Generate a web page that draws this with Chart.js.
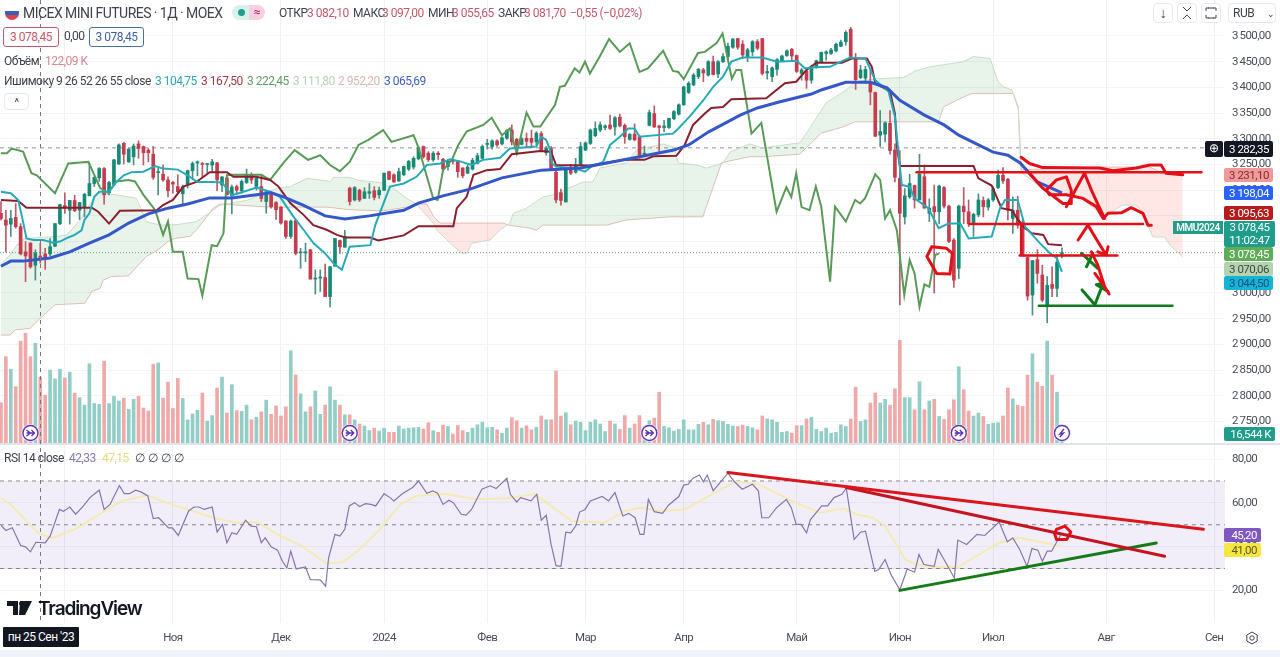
<!DOCTYPE html>
<html lang="ru">
<head>
<meta charset="utf-8">
<title>MICEX MINI FUTURES</title>
<script src="https://cdn.jsdelivr.net/npm/chart.js@4"></script>
<style>
    html, body { margin: 0; padding: 0; background: #f0f3fa; }
    #wrap { position: relative; width: 1280px; height: 657px; overflow: hidden; font-family: Roboto, sans-serif; font-size: 12px; letter-spacing: -0.5px; color: #3f434e; }
    canvas { display: block; background: #fff; }
    .t { position: absolute; white-space: nowrap; line-height: 14px; }
    .red { color: #c25a6c; }
    .tag { position: absolute; left: 1224px; width: 45px; padding-right: 4px; text-align: right; line-height: 14px; height: 14px; border-radius: 2px; font-size: 11.5px; }
    .btn { position: absolute; box-sizing: border-box; border: 1px solid #e6e8ee; border-radius: 4px; background: #fff; text-align: center; }
</style>
</head>
<body>
<div id="wrap">
    <canvas id="chart" width="1280" height="650"></canvas>

    <!-- legend rows -->
    <div style="position:absolute;left:5px;top:7px;width:14px;height:13px;border-radius:2px 2px 7px 7px;background:linear-gradient(#fff 0 30%,#3b5fb5 30% 60%,#d8444c 60%);"></div>
    <div class="t" style="left:23px;top:6px;font-size:14px;letter-spacing:-0.55px;">MICEX MINI FUTURES · 1Д · MOEX</div>
    <div style="position:absolute;left:232px;top:5px;width:17px;height:15px;background:#d9f1ee;border-radius:8px 0 0 8px;"></div>
    <div style="position:absolute;left:238px;top:9px;width:7px;height:7px;background:#1f9d8a;border-radius:50%;"></div>
    <div class="t" style="left:249px;top:5px;width:16px;height:15px;background:#f8cfdc;border-radius:0 8px 8px 0;text-align:center;color:#c2185b;">≈</div>
    <div class="t" style="left:279px;top:6px;">ОТКР</div><div class="t red" style="left:307px;top:6px;">3 082,10</div>
    <div class="t" style="left:353px;top:6px;">МАКС</div><div class="t red" style="left:382px;top:6px;">3 097,00</div>
    <div class="t" style="left:428px;top:6px;">МИН</div><div class="t red" style="left:452px;top:6px;">3 055,65</div>
    <div class="t" style="left:498px;top:6px;">ЗАКР</div><div class="t red" style="left:524px;top:6px;">3 081,70</div>
    <div class="t red" style="left:570px;top:6px;">−0,55 (−0,02%)</div>

    <div class="t red" style="left:3px;top:27px;width:54px;height:18px;line-height:18px;border:1px solid #c25a6c;border-radius:3px;text-align:center;background:#fff;">3 078,45</div>
    <div class="t" style="left:64px;top:29px;">0,00</div>
    <div class="t" style="left:89px;top:27px;width:53px;height:18px;line-height:18px;border:1px solid #4a6fa5;border-radius:3px;text-align:center;color:#3f5f9e;background:#fff;">3 078,45</div>

    <div class="t" style="left:4px;top:54px;">Объём</div>
    <div class="t" style="left:45px;top:54px;color:#d8848f;">122,09 K</div>

    <div class="t" style="left:4px;top:74px;">Ишимоку 9 26 52 26 55 close</div>
    <div class="t" style="left:155px;top:74px;color:#2aa7b5;">3 104,75</div>
    <div class="t" style="left:201px;top:74px;color:#9c3a44;">3 167,50</div>
    <div class="t" style="left:247px;top:74px;color:#5f9c62;">3 222,45</div>
    <div class="t" style="left:293px;top:74px;color:#b9d2b6;">3 111,80</div>
    <div class="t" style="left:338px;top:74px;color:#dcb4b0;">2 952,20</div>
    <div class="t" style="left:384px;top:74px;color:#3f62b8;">3 065,69</div>
    <div class="btn" style="left:4px;top:93px;width:25px;height:17px;line-height:17px;font-size:11px;">^</div>

    <div class="t" style="left:4px;top:451px;">RSI 14 close</div>
    <div class="t" style="left:69px;top:451px;color:#8a7ab5;">42,33</div>
    <div class="t" style="left:102px;top:451px;color:#e6d97a;">47,15</div>
    <div class="t" style="left:135px;top:451px;word-spacing:1px;">∅ ∅ ∅ ∅</div>

    <!-- top right buttons -->
    <div class="btn" style="left:1153px;top:3px;width:20px;height:20px;line-height:18px;font-size:14px;">↓</div>
    <div class="btn" style="left:1177px;top:3px;width:20px;height:20px;"><svg width="12" height="14" viewBox="0 0 12 14" style="margin-top:2px;"><path d="M2 1l4 4 4-4M2 13l4-4 4 4" fill="none" stroke="#3f434e"/></svg></div>
    <div class="btn" style="left:1201px;top:3px;width:20px;height:20px;"><svg width="12" height="12" viewBox="0 0 12 12" style="margin-top:3px;"><path d="M1 4V1h3M8 1h3v3M11 8v3H8M4 11H1V8" fill="none" stroke="#3f434e"/><path d="M3 1h6M3 11h6" stroke="#3f434e"/></svg></div>
    <div class="btn" style="left:1228px;top:3px;width:48px;height:20px;line-height:18px;text-align:left;padding-left:4px;">RUB <span style="margin-left:10px;font-size:9px;">⌄</span></div>

    <!-- price tags -->
    <div class="t" style="left:1205px;top:141px;width:18px;height:16px;line-height:15px;background:#131722;color:#fff;text-align:center;border-radius:2px;">⊕</div>
    <div class="tag" style="top:141px;height:16px;line-height:16px;background:#131722;color:#fff;">3 282,35</div>
    <div class="tag" style="top:168px;background:#ef9a9a;color:#8a2a2a;">3 231,10</div>
    <div class="tag" style="top:186px;background:#2962ff;color:#fff;">3 198,04</div>
    <div class="tag" style="top:206px;background:#b71c1c;color:#fff;">3 095,63</div>
    <div class="t" style="left:1173px;top:221px;width:50px;height:13px;line-height:13px;background:#1f9d8a;color:#fff;font-size:10px;text-align:center;font-weight:600;">MMU2024</div>
    <div class="tag" style="top:221px;width:51px;height:26px;line-height:13px;background:#1f9d8a;color:#fff;text-align:center;padding:0;">3 078,45<br>11:02:47</div>
    <div class="tag" style="top:247px;background:#5fae57;color:#fff;">3 078,45</div>
    <div class="tag" style="top:262px;background:#b5d3b0;color:#3d4a3d;">3 070,06</div>
    <div class="tag" style="top:276px;background:#14b4d6;color:#16507a;">3 044,50</div>
    <div class="tag" style="top:427px;width:47px;background:#1f9d8a;color:#fff;">16,544 K</div>
    <div class="tag" style="top:528px;width:33px;background:#7e57c2;color:#fff;">45,20</div>
    <div class="tag" style="top:543px;width:33px;background:#f5e642;color:#5c5a1c;">41,00</div>

    <!-- logo and time label -->
    <svg style="position:absolute;left:7px;top:601px;" width="26" height="15" viewBox="0 0 26 15"><path d="M0 0h11v14H6V5H0zM13 0h12l-7 14h-6zM12 2.5a2.5 2.5 0 1 1 0 .01z" fill="#131722"/></svg>
    <div class="t" style="left:38px;top:599px;font-size:19px;line-height:20px;font-family:Inter,sans-serif;font-weight:600;letter-spacing:-1.1px;color:#131722;">TradingView</div>
    <div class="t" style="left:3px;top:627px;width:76px;height:20px;line-height:20px;background:#131722;color:#fff;text-align:center;border-radius:1px;">пн 25 Сен '23</div>
    <svg style="position:absolute;left:1245px;top:631px;" width="14" height="14" viewBox="0 0 14 14"><path d="M7 1l5.2 3v6L7 13l-5.2-3V4z" fill="none" stroke="#3f434e"/><circle cx="7" cy="7" r="2.2" fill="none" stroke="#3f434e"/></svg>
</div>

<script>
// candles, one row per trading day from the left edge
const opens = [3155,3142,3134,3147,3129,3080,3097,3054,3072,3076,3076,3091,3135,3170,3161,3180,3161,3167,3189,3213,
    3224,3242,3195,3211,3251,3291,3255,3265,3290,3285,3278,3270,3234,3231,3220,3215,3207,3193,3212,3238,
    3253,3252,3250,3249,3253,3210,3224,3189,3207,3199,3215,3230,3207,3207,3178,3191,3176,3167,3140,3110,
    3141,3078,3078,3084,3027,3029,3030,2993,3052,3102,3089,3204,3181,3200,3184,3194,3199,3191,3200,3236,
    3230,3218,3230,3241,3245,3261,3285,3272,3259,3272,3260,3246,3259,3256,3243,3233,3241,3252,3262,3289,
    3285,3296,3290,3301,3317,3299,3289,3301,3301,3294,3310,3273,3281,3235,3195,3177,3245,3235,3250,3278,
    3291,3306,3317,3322,3327,3323,3342,3326,3299,3309,3304,3270,3326,3349,3325,3322,3322,3339,3348,3366,
    3390,3405,3421,3434,3424,3450,3426,3450,3460,3478,3495,3484,3458,3469,3489,3495,3428,3421,3435,3452,
    3462,3474,3462,3427,3432,3414,3439,3450,3466,3466,3471,3480,3489,3513,3456,3419,3418,3411,3390,3307,
    3309,3330,3278,3223,3148,3187,3209,3181,3226,3155,3168,3158,3205,3169,3103,3048,3169,3158,3134,3152,
    3180,3167,3181,3205,3229,3221,3145,3161,3137,3069,2996,3065,3035,2973,3017,3009,3076];
const highs = [3178,3161,3161,3174,3135,3100,3098,3084,3097,3087,3106,3135,3173,3195,3180,3190,3176,3194,3252,3226,
    3244,3244,3217,3260,3290,3293,3281,3290,3296,3286,3281,3285,3244,3249,3226,3217,3230,3210,3239,3255,
    3257,3254,3252,3260,3254,3226,3226,3210,3210,3220,3241,3234,3226,3230,3200,3197,3178,3168,3141,3142,
    3142,3087,3097,3085,3045,3045,3056,3052,3106,3103,3122,3206,3207,3202,3205,3213,3207,3206,3234,3237,
    3232,3243,3247,3258,3265,3285,3286,3275,3275,3275,3262,3259,3261,3257,3244,3249,3262,3272,3288,3299,
    3298,3298,3304,3318,3327,3301,3303,3311,3317,3314,3314,3285,3285,3243,3202,3239,3250,3262,3293,3294,
    3319,3333,3333,3327,3346,3343,3348,3329,3310,3329,3307,3286,3356,3364,3326,3336,3340,3355,3368,3402,
    3411,3427,3437,3437,3452,3461,3452,3466,3486,3495,3495,3491,3476,3491,3493,3495,3443,3440,3456,3463,
    3473,3476,3463,3437,3437,3443,3453,3469,3471,3476,3486,3492,3510,3517,3466,3443,3441,3435,3391,3355,
    3333,3355,3290,3277,3203,3231,3210,3270,3249,3183,3210,3210,3207,3171,3106,3171,3205,3181,3155,3193,
    3187,3184,3207,3239,3244,3223,3187,3188,3142,3071,3063,3084,3054,3032,3051,3074,3088];
const lows = [3142,3080,3110,3126,3074,3022,3048,3025,3058,3046,3072,3090,3133,3155,3134,3158,3143,3148,3189,3207,
    3217,3173,3191,3210,3250,3251,3254,3249,3262,3249,3255,3221,3191,3217,3187,3194,3194,3173,3204,3220,
    3228,3225,3233,3234,3199,3197,3191,3154,3191,3194,3213,3213,3200,3178,3155,3165,3143,3134,3106,3106,
    3074,3048,3061,3027,2998,3003,2993,2973,3052,3077,3089,3171,3179,3178,3184,3184,3181,3184,3199,3220,
    3215,3217,3228,3238,3241,3259,3262,3256,3256,3260,3236,3239,3251,3225,3224,3232,3239,3251,3260,3280,
    3280,3285,3288,3299,3288,3270,3288,3282,3283,3288,3275,3268,3238,3175,3171,3177,3230,3233,3250,3277,
    3289,3304,3314,3317,3318,3307,3323,3291,3297,3296,3262,3265,3325,3322,3275,3314,3320,3337,3346,3365,
    3388,3403,3417,3411,3422,3424,3419,3448,3456,3476,3474,3456,3450,3461,3473,3424,3416,3411,3424,3450,
    3460,3450,3429,3414,3398,3408,3437,3448,3453,3464,3469,3479,3482,3456,3396,3417,3408,3366,3304,3285,
    3294,3270,3216,2977,3134,3184,3165,3181,3165,3139,3000,3135,3165,3098,3011,3028,3135,3129,3110,3148,
    3148,3161,3178,3203,3213,3142,3116,3126,3072,2986,2957,3019,2983,2942,2993,2993,3068];
const closes = [3145,3132,3145,3129,3076,3072,3051,3078,3069,3067,3090,3135,3172,3165,3180,3160,3176,3192,3213,3225,
    3242,3191,3215,3259,3288,3270,3280,3286,3281,3273,3273,3225,3236,3220,3199,3212,3197,3207,3238,3252,
    3255,3250,3251,3255,3220,3226,3191,3206,3200,3217,3231,3220,3223,3184,3197,3168,3162,3136,3110,3140,
    3077,3080,3080,3027,3029,3030,2993,3051,3106,3090,3110,3178,3205,3181,3197,3197,3186,3200,3233,3221,
    3216,3236,3246,3256,3262,3282,3265,3259,3272,3269,3241,3257,3256,3236,3228,3245,3258,3267,3285,3291,
    3296,3288,3302,3316,3294,3288,3300,3295,3293,3311,3277,3281,3242,3181,3180,3239,3233,3248,3285,3292,
    3317,3320,3327,3325,3320,3341,3325,3304,3309,3298,3268,3272,3351,3323,3322,3325,3340,3353,3366,3401,
    3408,3424,3435,3428,3450,3425,3450,3460,3480,3494,3478,3463,3473,3489,3476,3427,3431,3438,3454,3461,
    3471,3461,3431,3434,3414,3440,3452,3468,3469,3473,3484,3488,3507,3460,3415,3434,3435,3391,3305,3314,
    3331,3277,3225,3155,3189,3213,3181,3231,3165,3165,3158,3208,3169,3100,3025,3169,3158,3135,3153,3181,
    3168,3181,3203,3229,3218,3161,3161,3132,3073,2994,3063,3038,2986,3015,3009,3060,3078.45];
const volumes = [97,207,177,135,244,263,207,239,158,115,175,154,177,156,170,120,109,91,190,95,
    93,196,95,112,101,108,81,105,112,84,77,189,192,108,146,83,155,107,56,70,
    79,120,53,66,132,158,72,140,78,76,91,56,62,75,103,69,89,65,87,221,
    163,118,75,87,125,69,91,135,103,91,68,68,56,46,41,30,36,29,36,26,
    26,41,34,36,37,38,34,49,30,26,43,40,22,42,30,26,36,44,50,37,
    38,32,24,36,61,54,36,42,32,38,65,56,56,173,65,73,44,53,50,30,
    50,56,46,28,53,46,33,66,36,46,66,41,54,60,122,40,37,29,33,56,
    32,32,45,50,44,57,54,52,45,41,40,43,40,37,32,65,58,56,50,26,
    28,24,42,42,58,62,33,28,36,24,26,44,40,58,134,52,56,96,120,96,
    105,91,130,246,109,109,80,147,80,101,105,64,57,80,104,183,128,77,65,72,
    64,45,48,49,65,132,106,91,88,163,214,146,136,244,163,122,16.544];

// Ichimoku lines: bar numbers and prices of their turning points
const tenkanIdx = [0,2,3.5,4.2,5.2,6.6,8.6,10.6,12,13.7,15,16.4,17,18,19,20,22,23.5,25,26.6,29,31.4,33,36,38,40,43,45,47,49.4,52,54.8,56.8,59.5,61.6,63.6,66,67.7,69.4,71,75.2,76.2,77.9,79.2,82,84.6,86.7,89.4,91.4,93.5,95.8,98.2,101.6,103.6,109,110,111,111.7,112.2,113,117,118.9,120.2,122.6,124,126,127.7,129,130,136.8,137.9,140.2,143,145,147,148.7,151,155,158,162,163.7,165.7,168.8,171,172.9,176,178,180.7,182,183,183.4,185,186,188.8,190.9,192.9,195.3,197,201.7,203.4,204.4,207,208.5,211.5,213.6,215,216];
const tenkanVal = [3197,3194,3181,3152,3106,3103,3103,3098,3100,3108,3113,3122,3142,3155,3187,3197,3197,3216,3229,3235,3236,3247,3242,3240,3229,3216,3216,3215,3190,3197,3205,3197,3187,3149,3123,3097,3077,3058,3045,3090,3093,3132,3175,3207,3213,3226,3249,3252,3260,3256,3249,3259,3263,3281,3285,3304,3298,3281,3252,3246,3242,3236,3246,3255,3288,3304,3320,3320,3304,3310,3320,3343,3375,3401,3421,3450,3458,3458,3450,3452,3437,3439,3440,3450,3458,3456,3414,3392,3343,3246,3210,3207,3184,3165,3126,3135,3135,3106,3110,3165,3181,3181,3129,3097,3077,3067,3041];

const kijunIdx = [0,3.5,5.2,18.5,19.8,22,24.2,31.7,33,35,37.1,39.8,42.5,46,47.3,52,54.8,56.5,58.9,61.6,63.6,66.3,68.4,70.1,75.2,76.8,82,85,92.1,92.8,94.8,96.2,98.9,101.6,104,109.8,112,113,119.9,126.7,131,132.8,137.5,139.2,140.9,143.3,144.6,147,148.7,155.8,159.6,161.9,164,166,171.2,173.2,176.3,177.3,178,181,182,182.4,183,198,199,201.7,202.7,203.7,205.8,207.1,208.5,209.9,212.2,213.2,216];
const kijunVal = [3181,3179,3166,3166,3158,3135,3160,3161,3171,3181,3207,3216,3235,3235,3226,3226,3220,3207,3175,3152,3132,3123,3113,3108,3108,3102,3112,3130,3130,3165,3187,3230,3239,3241,3270,3276,3275,3249,3248,3259,3259,3266,3267,3288,3327,3349,3360,3362,3377,3379,3408,3411,3434,3448,3448,3456,3456,3440,3408,3392,3349,3285,3247,3247,3223,3209,3187,3165,3161,3142,3126,3116,3113,3095,3093];

const chikouIdx = [0,1.2,2.2,4.5,6.2,7.3,11,13.7,16.1,17.8,20.2,21.8,23.5,25.9,27.3,29,31.4,33,34,35,37,38,40.2,41,42.9,44,45.3,46,47,53,54.8,57.5,59.8,62.5,65,67,69,71,72.8,74.8,77.8,79.5,84,85,88,88.9,90,91.8,93.1,94.8,98.2,99.9,102,103.6,105,107,108.4,109.8,112.8,113.8,114.8,116.8,117.8,118.9,119.9,121.9,123.8,126,128,130,131.7,134.8,136.8,137.9,139,141.9,143.3,145.7,146.9,148.8,149.7,150.7,152.8,154.8,157.9,159.9,160.9,161.9,163,164.6,165.9,167,168.8,169.8,172,173.9,174.9,175.9,178,179,180,181,182.4,183.9,185,186,187,188,189,190.2,191];
const chikouVal = [3272,3272,3281,3275,3233,3229,3194,3252,3254,3255,3204,3195,3217,3220,3217,3191,3161,3113,3139,3080,3080,3028,3027,2995,3093,3091,3116,3229,3230,3230,3220,3253,3278,3259,3268,3249,3237,3255,3288,3298,3317,3294,3307,3283,3184,3181,3239,3259,3288,3314,3327,3341,3307,3320,3272,3351,3324,3324,3366,3401,3403,3437,3429,3450,3427,3460,3494,3469,3486,3430,3437,3471,3432,3430,3416,3467,3469,3486,3505,3417,3434,3434,3310,3331,3158,3206,3187,3233,3167,3161,3207,3168,3022,3168,3139,3181,3174,3184,3231,3220,3145,3161,3122,2996,3064,3038,2973,3017,3012,3074,3077];

const spanAIdx = [0,1.8,3.2,4.9,11.3,13.4,16.1,19.5,23.5,27.6,29.6,32.4,35.8,39.8,43.2,44.6,50,54,56.2,58.9,62.3,67,67.7,71,72.8,77.2,79.9,82.6,84.6,88,88.7,90.8,93.8,94.8,95.8,99.6,101.6,103.6,104.3,107,110.4,112.4,118.5,120.5,121.9,127.3,129.4,134.8,137.2,137.8,141.6,143.6,147,148.4,152.4,155.1,157.9,162.6,164,168,172.1,173.9,178.3,183.7,186.1,189.2,195.9,198,201.4,203,204.1,205.8,207.1,207.6,207.7,213.5,219,223.7,225.7,228.4,231,232.5,233.2,234.5,236.9,238,240.6];
const spanAVal = [3055,3074,3093,3106,3110,3113,3142,3194,3191,3184,3139,3132,3133,3139,3161,3171,3180,3195,3204,3207,3223,3217,3225,3225,3219,3215,3204,3184,3173,3136,3123,3103,3077,3077,3097,3103,3123,3136,3155,3165,3187,3191,3216,3216,3243,3253,3278,3290,3282,3253,3249,3243,3253,3274,3290,3282,3286,3292,3311,3370,3395,3411,3417,3419,3432,3440,3450,3460,3456,3411,3401,3395,3359,3246,3234,3194,3191,3156,3156,3171,3171,3158,3138,3109,3109,3093,3070];
const spanBIdx = [0,1.8,2.9,5.9,7.6,11,17.1,18.5,20.2,20.8,22.5,25.9,29.6,32,34,35.4,38.5,39.8,41.2,43.2,44.6,54.8,66.3,71,76.5,77.9,82.6,84.6,86.7,88,89.4,102.3,103.3,107.7,109,110.4,123.3,127.3,136.1,142.9,144.3,146.7,148.4,152.4,155.1,162.6,167,171.4,173.9,190.9,191.9,194.6,197.6,206.1,207.1,207.6,207.8,224,233.9,236.9,240.6];
const spanBVal = [2918,2918,2928,2931,2947,2977,2980,3003,3009,3025,3032,3033,3071,3084,3100,3106,3110,3123,3139,3165,3173,3167,3167,3162,3160,3160,3167,3173,3173,3150,3136,3136,3132,3126,3122,3132,3132,3142,3148,3148,3187,3253,3257,3265,3265,3270,3311,3323,3333,3333,3362,3375,3388,3388,3362,3265,3240,3245,3245,3231,3231];

const maIdx = [0,2,4.5,10,14,18,22,26,30,34,38,42.5,47,52,55,57.5,61.5,66,70,75,82,85,90,95.5,102,110,118,123.4,130,137,140,144,150.5,154,158.6,165,167,172,177,180.4,183,188,192,195,199,202,205,207.5,211,216];
const maVal = [3052,3062,3062,3068,3080,3097,3113,3136,3154,3165,3173,3185,3185,3191,3195,3187,3171,3150,3144,3150,3161,3175,3189,3202,3224,3239,3243,3253,3265,3278,3288,3313,3346,3360,3372,3387,3395,3410,3410,3399,3375,3346,3327,3307,3288,3274,3268,3253,3216,3195];

// RSI pane
const rsiIdx = [0,1,2.3,4,5,6,7.1,9,10,11.9,12.7,14,15.2,16.8,18.1,20,21,22.2,24.1,25.1,26.2,27.4,28.5,29.9,31,32.1,34.1,34.9,36.1,38.2,39.3,40.3,41.4,43,44,45.1,46,47,48,49.8,50.9,52,53,53.8,55,56.3,57.3,58.2,59,60.1,62,63,65,66.1,66.7,68,69,70,70.9,72,73,74.2,75.3,76.3,78,79.2,80,81.7,83.8,85,86.7,87.9,88.9,90,91.2,92.1,93.7,94.7,95.8,97.9,99.6,100.8,103,103.7,105,105.8,107.9,109.1,110,111,112,113,114,115,116,117,117.8,118.9,120,122.4,123.7,125,126.6,127.8,129.1,130.1,130.9,131.8,133,134.7,135.9,138,139,139.9,140.9,142.2,143,143.8,145,146.3,148,149.2,150.9,153,154.2,154.9,156.3,157.9,159.9,160.9,161.9,162.9,164,164.8,167.1,168.3,169.6,171.2,172.1,173.7,175,176,177.9,178.7,180,181.2,183,184.5,186,186.9,187.9,190,190.8,192,194.1,194.8,196.6,198.7,200.3,203.2,204.9,206,207.4,208.9,209.9,211.1,212,213,213.9,215.7];
const rsiVal = [49.7,47.4,48.6,40.5,39.9,37.6,42,41.7,44.8,57,56.1,58.1,54.8,58.6,62.4,65.8,57,59.3,67.8,64.2,64.2,65.8,65,63.2,52.8,53.2,48.6,48.6,45.1,56.3,58.1,58.1,57,58.1,46.7,50.2,41.8,46.4,45.6,52.1,49.4,49.1,41.8,44,39.9,38.4,33.3,30.3,37.9,29.8,30.7,24.9,24.8,21.9,34.9,45.6,44.8,47.9,58.6,60.1,58.3,59.6,59.3,58.6,64.2,62.4,60.9,64.2,67,70,64.4,65.5,64.4,59.3,61.2,60.1,54.8,54.4,57,66.2,67.8,66.5,71.3,63.9,60.4,62.4,60.9,63.9,52.1,54.3,41,31.3,31,46.6,46.3,49.4,55.8,57,60.9,62.9,60.9,64.7,54,55.2,53.2,45.6,45.6,61.6,56,55.2,58.9,62.9,68.1,68.5,71.3,72.7,69.6,72.7,65.5,69,73.6,70,66.2,68.5,65.5,53.2,53.2,57.8,61.6,57.8,50.2,50.2,46.3,52.4,58.6,58.6,62.4,63.9,66.7,43.3,46.6,47.1,28.7,29.5,34.1,27.2,20.3,29.8,28.3,36.4,31.8,31,38.7,34.1,25.7,43,41,45.6,45.1,51.2,42.2,44,38.7,31,39.1,38.4,33.3,37.9,37.9,45.2];
const rsiMaIdx = [0,2.3,4.8,7.7,10.6,15.6,20.6,24.7,29.7,34.7,38.9,43.9,48,52.2,56.3,61.3,66.3,69.6,73,77.1,81.3,84.6,90.4,97,102.9,108.7,112,116.2,122.8,127,130.1,134.3,139.2,144.2,149.6,154.2,158.4,161.7,166.7,171.7,174.2,177.5,180,184.1,186.6,190,194.9,199.1,203.2,207.4,214,215.7];
const rsiMaVal = [62.4,58.6,52.5,46,44,48.6,55.5,60.9,63.5,59.3,56.3,52.8,50.9,51.2,45.6,40.2,32.3,32.9,38.7,47.9,59.3,63.2,64.2,61.6,62.1,63.9,58.6,51.7,50.9,56.3,57.8,56.3,57,63.2,69.8,68.5,63.9,60.1,55.5,57.5,54.7,53.2,49.4,34.1,31.8,30.7,30.7,36.4,41.7,44,41,40.2];
const rsiLevels = [70, 50, 30];

// axis labels
const priceTicks = [2750,2800,2850,2900,2950,3000,3050,3100,3150,3200,3250,3300,3350,3400,3450,3500];
const rsiTicks = [20,40,60,80];
const monthIdx = [13,35,57,78,99,119,139,162,183,202,225,247];
const monthLabels = ['','Ноя','Дек','2024','Фев','Мар','Апр','Май','Июн','Июл','Авг','Сен'];

// reference lines and event markers
const crossPrice = 3282.35;
const lastPrice = 3078.45;
const crossIdx = 8;
const rolloverIdx = [6,71,132,195];
const lightningIdx = 216;

// hand drawn marks on the price pane
const inkTopIdx = [207.7,209.4,212.1,223.7,226.4,231.1,233.9,236.2,237.2,240.6];
const inkTopVal = [3264,3252,3244,3243,3238,3243,3249,3249,3233,3230];
const inkLevel1Idx = [186.4,244.4];
const inkLevel1Val = [3235,3235];
const inkWaveIdx = [209.1,212.1,216.2,217.9,217.9,216.9,214.9,212.8,213.5,216.9,220.3,223,224.4,225.4,228.1,230.1,232.5,233.5,234.2];
const inkWaveVal = [3236,3204,3174,3174,3200,3226,3220,3200,3191,3191,3184,3168,3145,3155,3156,3166,3155,3132,3132];
const inkPeakIdx = [216.9,220.6,222,223.4,224.7];
const inkPeakVal = [3168,3233,3200,3171,3145];
const inkLevel2Idx = [197.2,232.5];
const inkLevel2Val = [3134,3134];
const inkStepIdx = [207.7,207.7,207.4,227.3];
const inkStepVal = [3132,3073,3073,3073];
const inkArrow1Idx = [219.3,221.3,223.3,225,223.3,225,225.4];
const inkArrow1Val = [3103,3132,3100,3074,3080,3074,3090];
const inkArrow2Idx = [222,223.3,224.7,222.7,224.7,225.6];
const inkArrow2Val = [3080,3054,3012,3038,3012,2998];
const inkCircleIdx = [189.5,188.5,190.5,193.2,193.7,192.5,189.5];
const inkCircleVal = [3090,3071,3038,3037,3077,3087,3090];
const inkCross1Idx = [220,223.3];
const inkCross1Val = [3077,3048];
const inkCross2Idx = [222.3,221];
const inkCross2Val = [3077,3051];
const inkTickIdx = [220.1,222.7,224.4,223,225.4];
const inkTickVal = [3006,2977,3019,3016,3003];
const inkSupportIdx = [211.3,238.5];
const inkSupportVal = [2975,2975];

// hand drawn marks on the RSI pane
const rsiTrend1Idx = [148,244.8];
const rsiTrend1Val = [73.9,47.9];
const rsiTrend2Idx = [172.1,236.9];
const rsiTrend2Val = [67,35.6];
const rsiSupportIdx = [183,235.2];
const rsiSupportVal = [20,41.7];
const rsiHexIdx = [214.9,216.6,217.8,217,214.9,214.5,214.9];
const rsiHexVal = [47.9,49.4,46.7,43.3,43.3,46,47.9];

const UP = '#158a74', DOWN = '#c63b4d', VOL_UP = '#92cdc6', VOL_DOWN = '#efa9a9';
const INK_RED = '#e3101a', INK_GREEN = '#0f7a1d';
const AXIS_FONT = { family: 'Roboto, sans-serif', size: 11.5 };

const xMin = -0.2, xMax = 249.2;

function pts(xs, ys) {
    return xs.map((x, k) => ({ x: x, y: ys[k] }));
}

function line(xs, ys, color, width, order, axis, extra) {
    return Object.assign({
        type: 'scatter',
        showLine: true,
        data: pts(xs, ys),
        borderColor: color,
        backgroundColor: color,
        borderWidth: width,
        pointRadius: 0,
        tension: 0,
        fill: false,
        order: order,
        yAxisID: axis
    }, extra || {});
}

const isUp = opens.map((o, k) => closes[k] >= o);

// formats 3500 as "3 500,00"
function priceLabel(v) {
    return String(v).replace(/^(\d)(\d{3})$/, '$1\u2009$2') + ',00';
}

// the panes have to fill the canvas edge to edge, so no half label padding
function fitRight(s) {
    s.width = 55;
    s.paddingTop = 0;
    s.paddingBottom = 0;
}

// pane divider, crosshair and the round markers on the volume bars
const overlayPlugin = {
    id: 'overlay',
    beforeDraw(chart) {
        chart.ctx.letterSpacing = '-0.6px'; // axis text is tight in the screenshot
    },
    afterDatasetsDraw(chart) {
        const c = chart.ctx, x = chart.scales.x, y = chart.scales.y, area = chart.chartArea;
        c.save();
        c.strokeStyle = '#e0e3eb';
        c.lineWidth = 2;
        c.beginPath();
        c.moveTo(0, y.bottom);
        c.lineTo(1280, y.bottom);
        c.stroke();

        c.strokeStyle = '#75787f';
        c.lineWidth = 1;
        c.setLineDash([4, 4]);
        c.beginPath();
        c.moveTo(Math.round(x.getPixelForValue(crossIdx)) + 0.5, area.top);
        c.lineTo(Math.round(x.getPixelForValue(crossIdx)) + 0.5, area.bottom);
        c.stroke();
        c.setLineDash([]);

        const cy = y.bottom - 11;
        rolloverIdx.concat([lightningIdx]).forEach(i => {
            const cx = x.getPixelForValue(i);
            c.beginPath();
            c.arc(cx, cy, 9, 0, Math.PI * 2);
            c.fillStyle = '#efe8fb';
            c.fill();
            c.beginPath();
            c.arc(cx, cy, 7.5, 0, Math.PI * 2);
            c.fillStyle = '#fff';
            c.fill();
            c.strokeStyle = '#5e35b1';
            c.lineWidth = 1.4;
            c.stroke();
            c.beginPath();
            if (i === lightningIdx) {
                c.moveTo(cx + 2, cy - 4);
                c.lineTo(cx - 2, cy + 1);
                c.lineTo(cx + 1.5, cy + 0);
                c.lineTo(cx - 2, cy + 4);
            } else {
                c.moveTo(cx - 4, cy - 3);
                c.lineTo(cx, cy);
                c.lineTo(cx - 4, cy + 3);
                c.moveTo(cx - 4, cy);
                c.lineTo(cx + 4, cy);
                c.moveTo(cx + 1, cy - 3);
                c.lineTo(cx + 4, cy);
                c.lineTo(cx + 1, cy + 3);
            }
            c.stroke();
        });
        c.restore();
    }
};

const inkOpts = { borderCapStyle: 'round', borderJoinStyle: 'round' };
const rightEdge = [xMin, xMax];

new Chart(document.getElementById('chart'), {
    type: 'bar',
    plugins: [overlayPlugin],
    data: {
        datasets: [
            // price pane marks, the lowest order is drawn last
            line(inkTopIdx, inkTopVal, INK_RED, 3, 1, 'y', inkOpts),
            line(inkLevel1Idx, inkLevel1Val, INK_RED, 2.5, 1, 'y', inkOpts),
            line(inkWaveIdx, inkWaveVal, INK_RED, 3, 1, 'y', inkOpts),
            line(inkPeakIdx, inkPeakVal, INK_RED, 3, 1, 'y', inkOpts),
            line(inkLevel2Idx, inkLevel2Val, INK_RED, 2.5, 1, 'y', inkOpts),
            line(inkStepIdx, inkStepVal, INK_RED, 2.5, 1, 'y', inkOpts),
            line(inkArrow1Idx, inkArrow1Val, INK_RED, 3, 1, 'y', inkOpts),
            line(inkArrow2Idx, inkArrow2Val, INK_RED, 3, 1, 'y', inkOpts),
            line(inkCircleIdx, inkCircleVal, INK_RED, 3, 1, 'y', inkOpts),
            line(inkCross1Idx, inkCross1Val, INK_GREEN, 3, 1, 'y', inkOpts),
            line(inkCross2Idx, inkCross2Val, INK_GREEN, 3, 1, 'y', inkOpts),
            line(inkTickIdx, inkTickVal, INK_GREEN, 3, 1, 'y', inkOpts),
            line(inkSupportIdx, inkSupportVal, INK_GREEN, 2.5, 1, 'y', inkOpts),

            line(maIdx, maVal, '#3558c8', 3, 2, 'y'),
            line(tenkanIdx, tenkanVal, '#26aab7', 2, 3, 'y'),
            line(kijunIdx, kijunVal, '#8a1f2d', 2, 4, 'y'),
            line(chikouIdx, chikouVal, '#5a9a58', 2, 5, 'y'),

            {
                type: 'bar',
                data: opens.map((o, k) => ({ x: k, y: [o, closes[k]] })),
                backgroundColor: isUp.map(u => u ? UP : DOWN),
                barThickness: 3,
                minBarLength: 1,
                grouped: false,
                order: 6,
                yAxisID: 'y'
            },
            {
                type: 'bar',
                data: lows.map((l, k) => ({ x: k, y: [l, highs[k]] })),
                backgroundColor: isUp.map(u => u ? '#4d8f83' : '#bb5a68'),
                barThickness: 1,
                grouped: false,
                order: 7,
                yAxisID: 'y'
            },

            line(spanAIdx, spanAVal, '#c9dcc6', 1, 8, 'y', {
                fill: { target: '+1', above: 'rgba(67,160,71,0.12)', below: 'rgba(244,67,54,0.13)' }
            }),
            line(spanBIdx, spanBVal, '#e3c4be', 1, 9, 'y'),

            line(rightEdge, [crossPrice, crossPrice], '#8f929a', 1, 10, 'y', { borderDash: [4, 4] }),
            line(rightEdge, [lastPrice, lastPrice], '#6f9f94', 1, 10, 'y', { borderDash: [1, 2] }),

            {
                type: 'bar',
                data: volumes.map((v, k) => ({ x: k, y: v })),
                backgroundColor: isUp.map(u => u ? VOL_UP : VOL_DOWN),
                barThickness: 3,
                grouped: false,
                order: 11,
                yAxisID: 'yVol'
            },

            // RSI pane
            line(rsiTrend1Idx, rsiTrend1Val, '#d9161c', 3, 1, 'yRsi', inkOpts),
            line(rsiTrend2Idx, rsiTrend2Val, '#c5141f', 3, 1, 'yRsi', inkOpts),
            line(rsiSupportIdx, rsiSupportVal, '#167a16', 3, 1, 'yRsi', inkOpts),
            line(rsiHexIdx, rsiHexVal, INK_RED, 3, 1, 'yRsi', inkOpts),
            line(rsiIdx, rsiVal, '#8676ab', 1.2, 2, 'yRsi'),
            line(rsiMaIdx, rsiMaVal, '#f4eab4', 2, 3, 'yRsi'),
            line(rightEdge, [rsiLevels[0], rsiLevels[0]], '#85888f', 1, 4, 'yRsi', {
                borderDash: [4, 4],
                fill: { target: { value: rsiLevels[2] }, above: 'rgba(126,87,194,0.1)' }
            }),
            line(rightEdge, [rsiLevels[1], rsiLevels[1]], '#85888f', 1, 4, 'yRsi', { borderDash: [4, 4] }),
            line(rightEdge, [rsiLevels[2], rsiLevels[2]], '#85888f', 1, 4, 'yRsi', { borderDash: [4, 4] })
        ]
    },
    options: {
        responsive: false,
        animation: false,
        events: [],
        layout: { padding: 0 },
        plugins: { legend: { display: false }, tooltip: { enabled: false } },
        scales: {
            x: {
                type: 'linear',
                min: xMin,
                max: xMax,
                offset: false,
                grid: { color: '#eef0f3', offset: false, drawTicks: false },
                border: { display: false },
                afterBuildTicks(s) { s.ticks = monthIdx.map(v => ({ value: v })); },
                afterFit(s) { s.height = 27; s.paddingLeft = 0; s.paddingRight = 0; },
                ticks: {
                    autoSkip: false,
                    maxRotation: 0,
                    padding: 8,
                    color: '#4a4e5a',
                    font: AXIS_FONT,
                    callback: (v, k) => monthLabels[k]
                }
            },
            y: {
                type: 'linear',
                position: 'right',
                stack: 'panes',
                stackWeight: 444,
                min: 2706.2,
                max: 3570,
                grid: { color: '#f2f3f6', drawTicks: false },
                border: { display: false },
                afterBuildTicks(s) { s.ticks = priceTicks.map(v => ({ value: v })); },
                afterFit: fitRight,
                ticks: {
                    autoSkip: false,
                    padding: 7,
                    color: '#4a4e5a',
                    font: AXIS_FONT,
                    callback: v => priceLabel(v)
                }
            },
            yRsi: {
                type: 'linear',
                position: 'right',
                stack: 'panes',
                stackWeight: 179,
                min: 5.1,
                max: 86.9,
                grid: { color: '#f2f3f6', drawTicks: false },
                border: { display: false },
                afterBuildTicks(s) { s.ticks = rsiTicks.map(v => ({ value: v })); },
                afterFit: fitRight,
                ticks: {
                    autoSkip: false,
                    padding: 7,
                    color: '#4a4e5a',
                    font: AXIS_FONT,
                    callback: v => v + ',00'
                }
            },
            yVol: {
                type: 'linear',
                display: false,
                position: 'right',
                min: -430,
                max: 1060
            }
        }
    }
});
</script>
</body>
</html>
